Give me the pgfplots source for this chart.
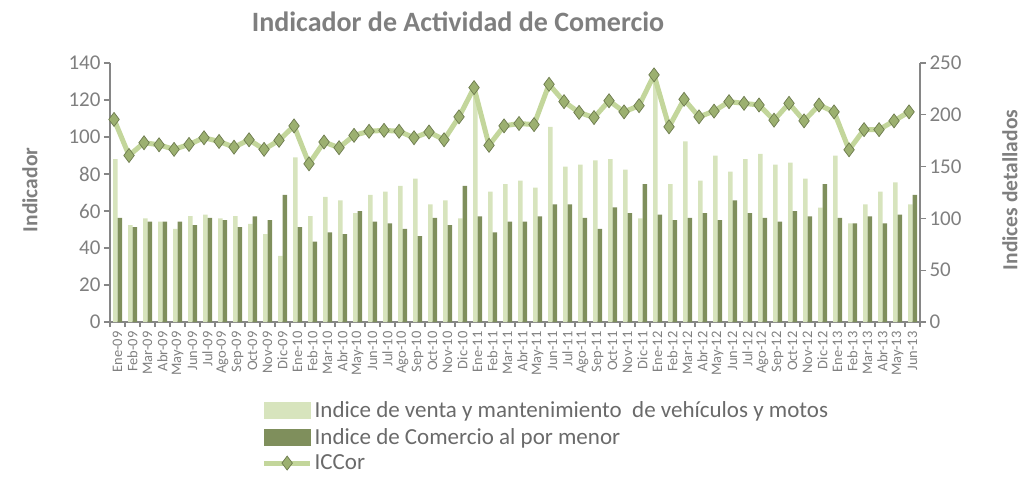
\documentclass[border=0pt]{standalone}
\usepackage{fontspec}
\setmainfont{Carlito}
\usepackage{pgfplots}
\usepackage{pgfplotstable}
\pgfplotsset{compat=1.18}

\definecolor{vehcol}{HTML}{D7E4BD}
\definecolor{comcol}{HTML}{7F8F5C}
\definecolor{linecol}{HTML}{C3D69B}
\definecolor{markcol}{HTML}{9CB070}
\definecolor{axcol}{HTML}{868686}
\definecolor{txtcol}{HTML}{7F7F7F}
\definecolor{legcol}{HTML}{6A6A6A}

% veh, com: right axis (Indices detallados); icc: left axis (Indicador)
\pgfplotstableread{
i lab veh com icc
0 Ene-09 157.1 100.4 109.5
1 Feb-09 93.6 91.6 90.0
2 Mar-09 100.0 96.8 96.9
3 Abr-09 96.8 96.8 95.8
4 May-09 90.0 96.8 93.3
5 Jun-09 102.3 93.6 96.0
6 Jul-09 103.6 100.4 99.6
7 Ago-09 100.0 98.4 97.6
8 Sep-09 102.3 91.6 94.5
9 Oct-09 94.8 102.0 98.5
10 Nov-09 84.8 98.4 93.3
11 Dic-09 63.9 122.7 98.2
12 Ene-10 158.9 91.6 106.0
13 Feb-10 102.3 77.7 85.5
14 Mar-10 120.7 86.4 97.3
15 Abr-10 117.5 84.8 94.2
16 May-10 105.2 107.1 100.9
17 Jun-10 122.7 96.8 103.1
18 Jul-10 125.9 95.2 103.6
19 Ago-10 131.3 90.0 103.1
20 Sep-10 138.4 82.9 99.6
21 Oct-10 113.6 100.4 102.7
22 Nov-10 117.5 93.6 98.5
23 Dic-10 100.0 131.3 110.9
24 Ene-11 220.7 102.0 126.7
25 Feb-11 125.9 86.4 95.5
26 Mar-11 133.0 96.8 106.0
27 Abr-11 136.4 96.8 107.3
28 May-11 129.8 102.0 106.7
29 Jun-11 188.4 113.6 128.5
30 Jul-11 150.0 113.6 119.1
31 Ago-11 152.0 100.4 113.3
32 Sep-11 155.9 90.0 110.5
33 Oct-11 157.1 110.7 119.6
34 Nov-11 147.1 105.2 113.6
35 Dic-11 100.0 133.0 116.9
36 Ene-12 235.4 103.6 133.6
37 Feb-12 133.0 98.4 105.5
38 Mar-12 174.3 100.4 120.4
39 Abr-12 136.4 105.2 110.9
40 May-12 160.7 98.4 114.0
41 Jun-12 145.2 117.5 119.1
42 Jul-12 157.1 105.2 118.2
43 Ago-12 162.3 100.4 117.3
44 Sep-12 152.0 96.8 109.1
45 Oct-12 153.9 107.1 118.2
46 Nov-12 138.4 102.0 108.7
47 Dic-12 110.4 133.0 117.3
48 Ene-13 160.7 100.4 113.6
49 Feb-13 95.2 95.2 93.1
50 Mar-13 113.6 102.0 104.0
51 Abr-13 125.9 95.2 104.0
52 May-13 134.8 103.6 108.7
53 Jun-13 113.6 122.7 113.6
}\datos

\tikzset{iccmark/.style={mark=diamond*, mark size=7pt,
    mark options={fill=markcol, draw=markcol!70!black, line width=0.7pt}}}

\pgfplotsset{
  base/.style={
    width=810pt, height=259pt, scale only axis,
    at={(0pt,0pt)}, anchor=south west,
    xmin=-0.5, xmax=53.5,
    axis line style={axcol, line width=1.2pt},
    tick style={axcol, line width=1.2pt},
    tick align=outside,
    major tick length=6pt, minor tick length=5pt,
    /pgf/number format/assume math mode=true,
    ticklabel style={text=txtcol},
    yticklabel style={font=\fontsize{21}{24}\selectfont},
  },
}

\begin{document}
\begin{tikzpicture}
\path[use as bounding box] (-110pt,-155pt) rectangle (915pt,322pt);

% bars, right axis
\begin{axis}[base,
  axis y line*=right, axis x line*=bottom,
  ymin=0, ymax=250, ytick={0,50,...,250},
  xtick={0,...,53}, xticklabels from table={\datos}{lab},
  major x tick style={draw=none},
  minor xtick={-0.5,0.5,...,53.5},
  x tick label style={rotate=90, anchor=east, font=\fontsize{14.5}{16}\selectfont},
]
\addplot[ybar, bar width=0.3, bar shift=-0.15, fill=vehcol, draw=none] table[x=i, y=veh]{\datos};
\addplot[ybar, bar width=0.3, bar shift=0.15, fill=comcol, draw=none] table[x=i, y=com]{\datos};
\end{axis}

% line, left axis
\begin{axis}[base,
  axis y line*=left, axis x line=none,
  ymin=0, ymax=140, ytick={0,20,...,140},
  legend style={at={(0.187,-0.30)}, anchor=north west, draw=none, fill=none,
    font=\fontsize{23}{24}\selectfont, text=legcol, row sep=5pt,
    inner sep=0pt, nodes={inner sep=2pt}},
  legend cell align=left,
]
\addlegendimage{legend image code/.code={\fill[vehcol] (0pt,-8pt) rectangle (46pt,8pt);}}
\addlegendentry{Indice de venta y mantenimiento\ \ de vehículos y motos}
\addlegendimage{legend image code/.code={\fill[comcol] (0pt,-8pt) rectangle (46pt,8pt);}}
\addlegendentry{Indice de Comercio al por menor}
\addplot[linecol, line width=5pt, iccmark,
  legend image code/.code={
    \draw[linecol, line width=5pt] (0pt,0pt) -- (46pt,0pt);
    \draw[iccmark] plot coordinates {(23pt,0pt)};}]
  table[x expr=\thisrow{i}-0.23, y=icc]{\datos};
\addlegendentry{ICCor}
\end{axis}

\node[font=\bfseries\fontsize{28}{32}\selectfont, text=txtcol] at (348pt,300pt) {Indicador de Actividad de Comercio};
\node[font=\bfseries\fontsize{21.5}{24}\selectfont, text=txtcol, rotate=90] at (-80pt,132pt) {Indicador};
\node[font=\bfseries\fontsize{21.5}{24}\selectfont, text=txtcol, rotate=90] at (900pt,132pt) {Indices detallados};
\end{tikzpicture}
\end{document}
